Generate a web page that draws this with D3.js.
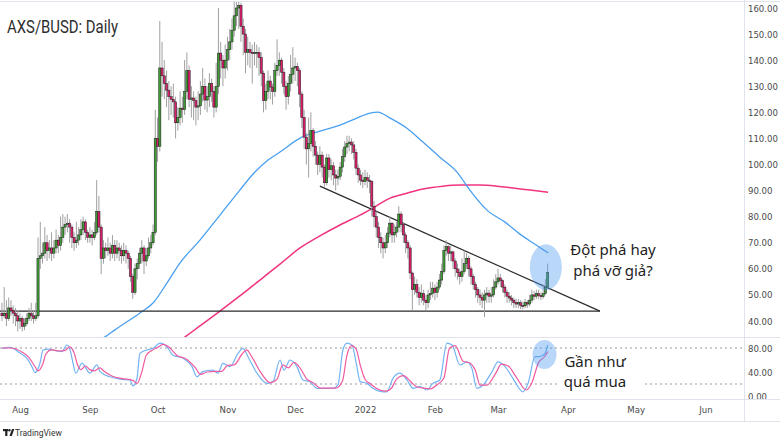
<!DOCTYPE html>
<html>
<head>
<meta charset="utf-8">
<script src="https://cdn.jsdelivr.net/npm/d3@7"></script>
<style>
  body { margin: 0; background: #fff; }
  svg { display: block; font-family: Roboto, 'Noto Sans', sans-serif; }
  .axis text { fill: #4a4a4a; font-size: 9.5px; font-family: 'Liberation Sans Narrow', 'DejaVu Sans Condensed', Roboto, sans-serif; }
  .axis path.domain { display: none; }
</style>
</head>
<body>
<svg width="780" height="439"></svg>
<script>
// daily candles from 2021-07-24, one value per day
const startDate = Date.UTC(2021, 6, 24);
const firstOpen = 43;
const closes = [
  42, 43, 41, 45, 44, 43, 42, 40, 41, 38,
  39, 41, 43, 42, 41, 42, 64, 65, 66, 70,
  67, 68, 66, 68, 71, 69, 72, 76, 77, 77.5,
  76, 72, 70, 71, 73, 75, 78, 74, 72, 73,
  72, 74, 82, 76, 64, 68, 67, 68, 66, 69,
  66, 68, 67, 65, 67, 66, 64, 57, 51, 60,
  62, 66, 68, 63, 65, 68, 70, 74, 110, 107,
  137, 134, 131, 128.5, 126, 125, 124, 116, 118, 121.6,
  121, 128, 136, 125, 125.5, 124.5, 122, 122.5, 127, 130,
  124.7, 126, 131, 128, 122, 130, 142.7, 140, 137, 140,
  144, 147, 151.5, 157, 160, 161, 153, 150, 143, 144,
  143, 142.5, 143, 143, 141, 135, 124.5, 128, 132, 129.7,
  128, 136, 138, 140, 135.4, 130, 126, 131, 134.6, 137,
  137.5, 136, 127, 118, 110.5, 106, 108, 113, 107, 103.6,
  100, 103.6, 99, 93, 102.5, 98, 99.5, 96, 94.8, 95.5,
  99, 103, 106.7, 108, 108.6, 107.5, 104.7, 98.6, 96, 94,
  93.5, 95, 94, 93.5, 84, 80, 76, 72, 70, 68,
  70, 73.7, 77.5, 73, 74, 76, 81, 77, 73, 70,
  68, 58.4, 52, 54, 51, 49, 50.5, 48, 47, 50,
  50.5, 52.6, 51, 53, 55.7, 59, 67, 68.5, 66, 66.5,
  63, 60, 58.5, 57, 59, 62, 64, 60, 57, 54,
  52, 50, 49, 48, 50, 50.7, 49.5, 50, 53, 55,
  56.5, 55.5, 53, 51, 49.5, 48.8, 48, 47, 46.5, 47,
  46, 45.8, 47, 46.5, 48, 50, 49.5, 50.5, 49.8, 49.3,
  50.5, 53, 58.5
];
const highs = [
  47, 53, 48, 49, 48, 46, 45, 44, 43, 42,
  41, 43, 45, 47, 44, 47, 72, 78, 70, 76,
  73, 71, 74, 71, 75, 73, 80, 81, 80, 81,
  79, 77, 74, 78, 76, 79, 80, 79, 75, 76,
  75, 78, 94, 88, 77, 71, 70, 72, 70, 73,
  71, 71, 70, 69, 70, 69, 67, 65, 58, 62,
  64, 68, 71, 69, 68, 72, 73, 77, 121, 118,
  155, 147, 140, 136, 132, 130, 131, 126, 122, 128,
  126, 140, 143, 138, 130, 128, 126, 128, 132, 137,
  133, 130, 135, 133, 130, 139, 160, 147, 142, 146,
  149, 152, 156, 163, 164, 164, 162, 156, 152, 149,
  147, 146, 147, 146, 145, 143, 136, 131, 136, 134,
  131, 139, 148, 143, 141, 137, 132, 134, 142, 145,
  141, 139, 137, 128, 121, 112, 118, 120, 114, 109,
  105, 107, 105, 100, 104, 104, 102, 101, 98, 98,
  101, 106, 109, 111, 111, 110, 109, 106, 100, 98,
  97, 98, 97, 96, 94, 86, 82, 78, 74, 72,
  73, 76, 80, 78, 77, 78, 84, 82, 78, 74,
  71, 69, 59, 57, 56, 53, 54, 52, 50, 52,
  55, 55, 54, 55, 58, 62, 69, 71, 69, 69,
  67, 64, 62, 60, 64, 67, 66, 65, 61, 58,
  55, 53, 52, 51, 52, 53, 52, 53, 56, 58,
  60, 58, 56, 54, 52, 51, 50, 49, 48.5, 48.5,
  48, 47.5, 48.5, 48, 50, 52, 51.5, 52, 52, 51,
  54, 56, 62
];
const lows = [
  40, 41, 38, 40, 42, 39, 38, 36, 37, 36,
  36.5, 38, 40, 40, 39, 40, 41, 60, 62, 64,
  63, 64, 63, 64, 66, 66, 67, 70, 73, 74,
  70, 68, 67, 68, 69, 71, 73, 71, 70, 70,
  69, 71, 73, 74, 58, 62, 64, 65, 63, 64,
  63, 64, 63, 62, 63, 62, 60, 55, 48.5, 50,
  56, 60, 62, 58, 61, 64, 66, 69, 73, 101,
  105, 126, 125, 122, 117, 119, 118, 110, 113, 115,
  116, 119, 125, 122, 118, 117, 115, 117, 119, 124,
  121, 120, 122, 124, 118, 120, 127, 133, 130, 133,
  136, 140, 144, 149, 153, 152, 147, 142, 135, 138,
  137, 131, 138, 137, 134, 130, 120, 121, 125, 125,
  123, 126, 134, 134, 131, 127, 121, 123, 128, 131,
  132, 130, 122, 114, 106, 100, 95, 105, 103, 100,
  96, 97, 95, 91.5, 92, 95, 94, 92, 90, 92,
  94, 97, 101, 104, 105, 104, 102, 96, 93, 92,
  91, 92, 91, 89, 80, 76, 72, 68, 66, 64,
  66, 68, 72, 70, 70, 72, 74, 74, 70, 66,
  64, 56, 44, 50, 49, 46, 47, 46, 44, 45,
  48, 49, 48, 49, 52, 54, 58, 65, 63, 63,
  60, 57, 56, 54, 55, 58, 60, 57, 54, 52,
  49, 47, 46, 45, 41.5, 47, 47, 47, 49, 52,
  54, 53, 51, 49, 47, 47, 46, 45, 45, 45,
  44.5, 44.5, 45, 45, 45.5, 47, 48, 48.5, 48.5, 48,
  48.5, 50, 52.5
];

// moving averages: [day offset, price]
const maFast = [
  [44, 33], [45.7, 33.9], [50.1, 36.6], [61.2, 43.1], [67, 46.9], [73.2, 54.6],
  [78.9, 62.2], [87.8, 71], [96.7, 80.6], [105.5, 90.2], [112.2, 97.1], [118, 101.7],
  [123.3, 104.8], [132.2, 110.1], [141, 112.8], [149.9, 115.1], [157.4, 117.8],
  [163.2, 119.7], [166.7, 120.1], [172.1, 117.8], [179.6, 113.9], [186.7, 108.6],
  [194.2, 102.8], [201.8, 97.1], [207.5, 90.2], [215.1, 82.5], [223.1, 77.9],
  [229.7, 73.3], [235.5, 69.9], [242.2, 66.1]
];
const maSlow = [
  [79, 32.5], [81.2, 33.9], [87.8, 38.1], [96.7, 43.8], [105.5, 49.6], [114.4, 55.7],
  [123.3, 61.8], [132.2, 68], [141, 72.6], [149.9, 76.8], [158.8, 80.6], [164.5, 83.3],
  [172.1, 87.1], [179.6, 89], [186.7, 90.6], [195.6, 91.7], [203.1, 92.1], [212, 92.1],
  [219.5, 91.7], [226.6, 91], [234.2, 90.2], [242.2, 89.4]
];

// stochastic RSI: [day offset, value]
const stochK = [
  [0, 79.5], [3.5, 81], [8, 71.5], [11, 63], [13.3, 49], [14.6, 39], [16.9, 55], [18.2, 76.7],
  [20.4, 78], [24.4, 75], [26.6, 74], [28.8, 85], [30.2, 77], [31.5, 55], [32.8, 38], [35.5, 55],
  [36.8, 49], [39, 38], [42.1, 52], [43.5, 40.5], [47.9, 32], [52.3, 28], [56.8, 26.7], [58.1, 16.7],
  [59.9, 30], [61.2, 71], [64.3, 76.7], [67, 79.5], [70.1, 88], [73.2, 82], [75.8, 68], [80.3, 63],
  [84.3, 49], [86.5, 32], [89.1, 40.5], [93.6, 43], [95.8, 38], [98, 54.5], [101.1, 49], [104.7, 71],
  [106.9, 79.5], [109.1, 65.5], [113.1, 38], [117.5, 21], [120.2, 24], [123.3, 60], [125.1, 43],
  [127.7, 60], [130.8, 49], [133.5, 26.7], [136.6, 24], [139.7, 12.8], [146.8, 12.8], [149, 18],
  [151.2, 76.7], [153, 88], [155.2, 85], [157.4, 49], [158.8, 24], [161.9, 21], [164.5, 12.8],
  [169, 7], [170.7, 7], [173.4, 29.5], [176.5, 38], [179.6, 26.7], [182.3, 12.8], [185.4, 15.5],
  [188.5, 10], [191.1, 21], [194.2, 26.7], [197.3, 88], [199.6, 85], [203.1, 51.7], [206.2, 57],
  [208.4, 46], [210.6, 12.8], [213.3, 18], [217.3, 40.5], [220, 57], [223.1, 49], [226.6, 29.5],
  [231, 7], [233.3, 21], [236.4, 65.5], [238.6, 65.5], [240.8, 71], [242.1, 85]
];
const stochD = [
  [0, 80], [4, 80], [9, 73], [12, 64], [14.5, 50], [16, 42], [18, 52], [19.5, 70], [22, 77],
  [25.5, 75], [28, 76], [30, 82], [32, 72], [33.5, 52], [35, 44], [37, 50], [39, 44], [41, 42],
  [43.5, 47], [45, 42], [49, 33], [53.5, 29], [58, 26], [60, 21], [62, 40], [64, 68], [66.5, 76],
  [69, 81], [71.5, 86], [74.5, 80], [77.5, 68], [82, 61], [86, 46], [88, 36], [91, 40], [95, 41],
  [97.5, 41], [100, 51], [103, 52], [106.5, 70], [108.5, 77], [111, 64], [115, 38], [119, 22],
  [122, 28], [124.5, 52], [127, 47], [129.5, 56], [132.5, 45], [135, 29], [138, 22], [141.5, 13],
  [148, 13], [151, 25], [153, 68], [155, 84], [157, 79], [159, 50], [161, 28], [163.5, 20],
  [166, 13], [170, 8], [172.5, 12], [175, 28], [178, 34], [181, 25], [184, 15], [187, 13],
  [190, 12], [193, 19], [196, 30], [198.5, 80], [201, 84], [204.5, 58], [207.5, 55], [210, 42],
  [212, 18], [215, 18], [219, 38], [221.5, 53], [224.5, 50], [228, 32], [232.5, 10], [235, 22],
  [238, 56], [240.5, 65], [242.1, 74]
];

// drawn trendlines: [day offset, price]
const supportLine = [[-1, 43.8], [265.2, 43.8]];
const resistanceLine = [[141, 91.7], [265.2, 43.8]];

const priceTicks = [40, 50, 60, 70, 80, 90, 100, 110, 120, 130, 140, 150, 160];
const stochTicks = [0, 40, 80];
const stochLevels = [80, 20];
const monthStarts = ['2021-08-01', '2021-09-01', '2021-10-01', '2021-11-01', '2021-12-01',
  '2022-01-01', '2022-02-01', '2022-03-01', '2022-04-01', '2022-05-01', '2022-06-01'];
const monthLabels = ['Aug', 'Sep', 'Oct', 'Nov', 'Dec', '2022', 'Feb', 'Mar', 'Apr', 'May', 'Jun'];

const title = 'AXS/BUSD: Daily';
const noteMain = ['Đột phá hay', 'phá vỡ giả?'];
const noteStoch = ['Gần như', 'quá mua'];

// ---------------------------------------------------------------
const svg = d3.select('svg');
const svgWidth = +svg.attr('width');
const frame = { right: 744, top: 2, priceBottom: 337, stochBottom: 399, axisBottom: 421 };
const colors = { up: '#3f9c35', down: '#dc1f6c', wick: '#a0a0a0', fast: '#4aa0f0', slow: '#f0347f',
  k: '#72b4f5', d: '#f15a9f', grid: '#e0e3eb' };

const dayDate = d => new Date(startDate + d * 864e5);
const xScale = d3.scaleUtc()
  .domain([new Date(Date.UTC(2022, 0, 1)), new Date(Date.UTC(2022, 5, 1))])
  .range([365, 705.5]);
const yPrice = d3.scaleLinear().domain([40, 160]).range([321, 8]);
const yStoch = d3.scaleLinear().domain([0, 80]).range([396, 348]);
const xDay = d => xScale(dayDate(d));

const defs = svg.append('defs');
const addClip = (id, x, y, w, h) => defs.append('clipPath').attr('id', id)
  .append('rect').attr('x', x).attr('y', y).attr('width', w).attr('height', h);
addClip('clip-price', 0, frame.top, frame.right, frame.priceBottom - frame.top);
addClip('clip-stoch', 0, frame.priceBottom, frame.right, frame.stochBottom - frame.priceBottom);
addClip('clip-stoch-axis', frame.right, frame.priceBottom, svgWidth - frame.right, frame.stochBottom - frame.priceBottom);

// frame lines
const frameGroup = svg.append('g').attr('stroke', colors.grid).attr('stroke-width', 1);
[1.5, frame.priceBottom + 0.5, frame.stochBottom + 0.5, frame.axisBottom + 0.5].forEach(y => {
  frameGroup.append('line').attr('x1', 0).attr('x2', svgWidth).attr('y1', y).attr('y2', y);
});
frameGroup.append('line').attr('x1', frame.right + 0.5).attr('x2', frame.right + 0.5)
  .attr('y1', 0).attr('y2', frame.axisBottom);

// ---------------- price pane
const pricePane = svg.append('g').attr('clip-path', 'url(#clip-price)');

const maLine = d3.line().x(p => xDay(p[0])).y(p => yPrice(p[1])).curve(d3.curveMonotoneX);
pricePane.append('path').attr('d', maLine(maSlow))
  .attr('fill', 'none').attr('stroke', colors.slow).attr('stroke-width', 1.5);
pricePane.append('path').attr('d', maLine(maFast))
  .attr('fill', 'none').attr('stroke', colors.fast).attr('stroke-width', 1.3);

const straight = d3.line().x(p => xDay(p[0])).y(p => yPrice(p[1]));
[supportLine, resistanceLine].forEach(l => {
  pricePane.append('path').attr('d', straight(l))
    .attr('fill', 'none').attr('stroke', '#2a2a2a').attr('stroke-width', 1.2);
});

const candles = closes.map((c, i) => ({
  day: i,
  open: i === 0 ? firstOpen : closes[i - 1],
  close: c,
  high: highs[i],
  low: lows[i]
}));

const candleGroup = pricePane.append('g').attr('class', 'candles');
candleGroup.selectAll('line.wick')
  .data(candles)
  .enter()
  .append('line')
    .attr('class', 'wick')
    .attr('x1', d => xDay(d.day))
    .attr('x2', d => xDay(d.day))
    .attr('y1', d => yPrice(d.high))
    .attr('y2', d => yPrice(d.low))
    .attr('stroke', colors.wick)
    .attr('stroke-width', 1);
candleGroup.selectAll('rect.body')
  .data(candles)
  .enter()
  .append('rect')
    .attr('class', 'body')
    .attr('x', d => xDay(d.day) - 1.1)
    .attr('width', 2.2)
    .attr('y', d => yPrice(Math.max(d.open, d.close)))
    .attr('height', d => Math.max(1, Math.abs(yPrice(d.open) - yPrice(d.close))))
    .attr('fill', d => d.close >= d.open ? colors.up : colors.down)
    .attr('stroke', '#1c1c1c')
    .attr('stroke-width', 0.5);

// highlight of the breakout candle
pricePane.append('ellipse')
  .attr('cx', xDay(241.2)).attr('cy', yPrice(60.6))
  .attr('rx', 16).attr('ry', 23)
  .attr('fill', 'rgba(70,150,240,0.38)');

const noteMainGroup = svg.append('g')
  .attr('font-family', "'Noto Sans', 'Open Sans', sans-serif")
  .attr('font-size', 15).attr('fill', '#1e1e1e').attr('text-anchor', 'middle');
noteMain.forEach((t, i) => noteMainGroup.append('text').attr('x', 613).attr('y', 255 + i * 21).text(t));

svg.append('text')
  .attr('x', 7).attr('y', 33)
  .attr('font-family', "Roboto, sans-serif")
  .attr('font-size', 17.5).attr('fill', '#2e2e2e')
  .attr('textLength', 111).attr('lengthAdjust', 'spacingAndGlyphs')
  .text(title);

// ---------------- stoch RSI pane
const stochPane = svg.append('g').attr('clip-path', 'url(#clip-stoch)');
stochLevels.forEach(v => {
  stochPane.append('line')
    .attr('x1', 0).attr('x2', frame.right)
    .attr('y1', yStoch(v)).attr('y2', yStoch(v))
    .attr('stroke', '#9a9a9a').attr('stroke-dasharray', '2,3');
});
const stochLine = d3.line().x(p => xDay(p[0])).y(p => yStoch(p[1])).curve(d3.curveMonotoneX);
stochPane.append('path').attr('d', stochLine(stochK))
  .attr('fill', 'none').attr('stroke', colors.k).attr('stroke-width', 1.2);
stochPane.append('path').attr('d', stochLine(stochD))
  .attr('fill', 'none').attr('stroke', colors.d).attr('stroke-width', 1.2);

stochPane.append('ellipse')
  .attr('cx', xDay(240.6)).attr('cy', yStoch(69))
  .attr('rx', 12).attr('ry', 14.5)
  .attr('fill', 'rgba(70,150,240,0.38)');

svg.append('rect').attr('x', 557).attr('y', 349).attr('width', 88).attr('height', 44).attr('fill', '#fff');
const noteStochGroup = svg.append('g')
  .attr('font-family', "'Noto Sans', 'Open Sans', sans-serif")
  .attr('font-size', 15).attr('fill', '#1e1e1e').attr('text-anchor', 'middle');
noteStoch.forEach((t, i) => noteStochGroup.append('text').attr('x', 595).attr('y', 367 + i * 19.5).text(t));

// ---------------- axes
const priceAxis = svg.append('g')
  .attr('class', 'axis price-axis')
  .attr('transform', `translate(${frame.right}, 0)`);
priceAxis.call(d3.axisRight(yPrice).tickValues(priceTicks).tickSize(0).tickPadding(4).tickFormat(d3.format('.2f')));

const stochAxis = svg.append('g')
  .attr('class', 'axis stoch-axis')
  .attr('clip-path', 'url(#clip-stoch-axis)')
  .append('g')
  .attr('transform', `translate(${frame.right}, 0)`);
stochAxis.call(d3.axisRight(yStoch).tickValues(stochTicks).tickSize(0).tickPadding(4).tickFormat(d3.format('.2f')));

const parseDay = d3.utcParse('%Y-%m-%d');
const timeAxis = svg.append('g')
  .attr('class', 'axis time-axis')
  .attr('transform', `translate(0, ${frame.stochBottom})`);
timeAxis.call(d3.axisBottom(xScale)
  .tickValues(monthStarts.map(parseDay))
  .tickSize(0).tickPadding(7)
  .tickFormat((d, i) => monthLabels[i]));

// tradingview mark
const logo = svg.append('g').attr('transform', 'translate(3, 429)').attr('fill', '#222');
logo.append('rect').attr('x', 0).attr('y', 0).attr('width', 5).attr('height', 2.2);
logo.append('rect').attr('x', 2.2).attr('y', 0).attr('width', 2.2).attr('height', 7);
logo.append('circle').attr('cx', 6.4).attr('cy', 1.3).attr('r', 1.2);
logo.append('path').attr('d', 'M6.5,7 L9,0 L11.3,0 L8.8,7 Z');
svg.append('text')
  .attr('x', 15).attr('y', 436)
  .attr('font-family', 'Roboto, sans-serif')
  .attr('font-size', 8.5).attr('fill', '#333')
  .text('TradingView');
</script>
</body>
</html>
